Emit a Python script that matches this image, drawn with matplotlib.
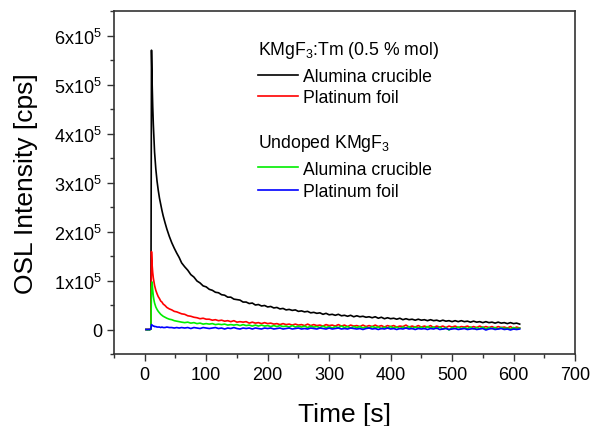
import matplotlib
matplotlib.use("Agg")
import matplotlib.pyplot as plt
from matplotlib.ticker import MultipleLocator
import numpy as np

plt.rcParams['font.family'] = ['Liberation Sans', 'DejaVu Sans']
plt.rcParams['mathtext.default'] = 'regular'

# time axis [s]
t_early = [2, 4, 6, 8, 10, 11, 12, 13, 14, 15, 16, 18, 20, 22, 24, 26, 28, 30, 33, 36, 40, 44, 48, 52, 56]
t_late = list(range(60, 611, 5))
time = np.array(t_early + t_late)

# OSL intensity in kcps
tm_alumina = [0, 0, 0, 0, 1, 570, 505, 455, 418, 388, 362, 328, 303, 284, 268, 255, 243, 232, 218, 205, 190, 177, 166, 156, 147,
              136, 128, 121, 112, 107, 99, 95, 89, 87, 82,
              80, 76, 75, 71, 70, 66, 66, 62, 61, 60,
              56, 56, 53, 54, 50, 51, 48, 49, 46, 47,
              44, 45, 42, 43, 40, 41, 39, 40, 37, 38,
              36, 37, 34, 35, 33, 34, 31, 33, 30, 31,
              29, 31, 28, 29, 27, 29, 26, 28, 26, 27,
              25, 26, 24, 26, 23, 25, 22, 24, 22, 23,
              21, 23, 20, 22, 20, 21, 19, 21, 19, 20,
              18, 20, 18, 19, 17, 19, 17, 18, 16, 18,
              16, 18, 16, 17, 15, 17, 15, 16, 14, 16,
              14, 15, 13, 15, 13, 14, 12, 14, 12, 13,
              11]
tm_platinum = [0, 0, 0, 0, 1, 159, 132, 116, 105, 97, 90, 80, 73, 67, 63, 58, 56, 52, 49, 45, 42, 40, 37, 36, 34,
               32, 31, 28, 27, 25, 24, 22, 23, 21, 21,
               19, 20, 18, 19, 17, 18, 16, 18, 15, 16,
               15, 16, 13, 15, 13, 14, 12, 14, 12, 13,
               11, 12, 10, 12, 10, 11, 9, 11, 9, 10,
               8, 11, 8, 10, 8, 9, 7, 10, 8, 9,
               7, 10, 7, 9, 6, 9, 7, 8, 6, 9,
               6, 8, 6, 9, 6, 8, 5, 8, 6, 8,
               5, 7, 6, 9, 5, 7, 5, 8, 5, 7,
               5, 8, 4, 7, 5, 7, 4, 7, 5, 7,
               4, 6, 5, 7, 4, 6, 4, 7, 4, 6,
               4, 6, 3, 6, 4, 5, 3, 6, 2, 5,
               3]
undoped_alumina = [0, -1, 0, -1, 1, 85, 97, 80, 68, 60, 54, 46, 41, 37, 34, 31, 29, 27, 25, 23, 21, 20, 18, 17, 16,
                   15, 14, 15, 13, 14, 12, 13, 11, 12, 11,
                   12, 10, 11, 10, 11, 9, 10, 9, 10, 8,
                   10, 8, 9, 7, 9, 7, 9, 7, 8, 6,
                   8, 6, 8, 6, 7, 5, 8, 5, 7, 5,
                   7, 4, 7, 5, 6, 4, 7, 4, 6, 3,
                   6, 4, 7, 4, 6, 3, 6, 4, 6, 3,
                   5, 3, 6, 4, 5, 2, 5, 3, 6, 3,
                   5, 2, 5, 3, 6, 2, 5, 3, 5, 2,
                   6, 3, 5, 2, 5, 1, 4, -1, 4, 2,
                   5, 2, 4, 2, 5, 1, 4, 2, 5, 1,
                   4, 2, 4, 1, 4, 2, 3, 1, 4, 2,
                   3]
undoped_platinum = [0, 0, 0, 0, 1, 10, 9, 8, 7, 7, 6, 6, 5, 5, 5, 4, 5, 4, 4, 5, 4, 4, 3, 4, 3,
                    4, 3, 4, 2, 4, 3, 2, 4, 3, 2,
                    3, 4, 2, 3, 1, 3, 2, 4, 2, 1,
                    3, 2, 3, 1, 3, 2, 1, 3, 2, 3,
                    1, 2, 3, 1, 2, 3, 1, 2, 3, 1,
                    2, 1, 3, 2, 1, 3, 2, 1, 3, 1,
                    2, 3, 1, 2, 1, 3, 2, 1, 2, 0,
                    2, 3, 1, 2, 0, 2, 1, 3, 1, 2,
                    0, 2, 1, 3, 1, 2, 0, 2, 1, 2,
                    0, 2, 1, 3, 0, 1, 2, 0, 1, 2,
                    0, 1, 2, 0, 1, 2, 0, 1, 2, -1,
                    1, 2, 0, 1, 2, 0, 1, -1, 1, 0,
                    1]

series_labels = ['Alumina crucible', 'Platinum foil', 'Alumina crucible', 'Platinum foil']
group_titles = ['KMgF$_3$:Tm (0.5 % mol)', 'Undoped KMgF$_3$']
colors = ['#000000', '#ff0000', '#00ee00', '#0000ff']

yticks = [0, 1e5, 2e5, 3e5, 4e5, 5e5, 6e5]
yticklabels = ['0', '1x10$^5$', '2x10$^5$', '3x10$^5$', '4x10$^5$', '5x10$^5$', '6x10$^5$']
xticks = [0, 100, 200, 300, 400, 500, 600, 700]

fig = plt.figure(figsize=(5.92, 4.27), dpi=100)
ax = fig.add_axes([114/592, 1-355/427, 461/592, 343/427])

series = [tm_alumina, tm_platinum, undoped_alumina, undoped_platinum]
lines = []
for vals, c in zip(series, colors):
    ln, = ax.plot(time, np.array(vals) * 1000.0, color=c, lw=1.2)
    lines.append(ln)

ax.set_xlim(-50, 700)
ax.set_ylim(-0.5e5, 6.5e5)
ax.set_xticks(xticks)
ax.set_yticks(yticks)
ax.set_yticklabels(yticklabels)
ax.xaxis.set_minor_locator(MultipleLocator(50))
ax.yaxis.set_minor_locator(MultipleLocator(0.5e5))
ax.tick_params(which='both', direction='out', top=False, right=False, width=1.0, color='#333333', labelsize=13)
ax.tick_params(which='major', length=5)
ax.tick_params(which='minor', length=3)
for s in ax.spines.values():
    s.set_linewidth(1.2)
    s.set_color('#333333')

ax.set_xlabel('Time [s]', fontsize=19, labelpad=14)
ax.set_ylabel('OSL Intensity [cps]', fontsize=19, labelpad=12)

# legend, drawn manually (pixel positions converted to axes fraction)
def ax_xy(px, py):
    return (px - 114) / 461.0, (355 - py) / 343.0

fs = 12.7
tx, ty = ax_xy(258, 55)
ax.text(tx, ty, group_titles[0], transform=ax.transAxes, fontsize=fs, va='baseline', ha='left')
tx, ty = ax_xy(258, 148)
ax.text(tx, ty, group_titles[1], transform=ax.transAxes, fontsize=fs, va='baseline', ha='left')
rows = [(76, 82), (97, 103), (168, 175), (191, 197)]
for (ly, tyb), c, lab in zip(rows, colors, series_labels):
    x0, y0 = ax_xy(258, ly)
    x1, _ = ax_xy(298, ly)
    ax.plot([x0, x1], [y0, y0], color=c, lw=1.2, transform=ax.transAxes, clip_on=False)
    xt, yt = ax_xy(303, tyb)
    ax.text(xt, yt, lab, transform=ax.transAxes, fontsize=fs, va='baseline', ha='left')

fig.savefig('out.png', dpi=100)
